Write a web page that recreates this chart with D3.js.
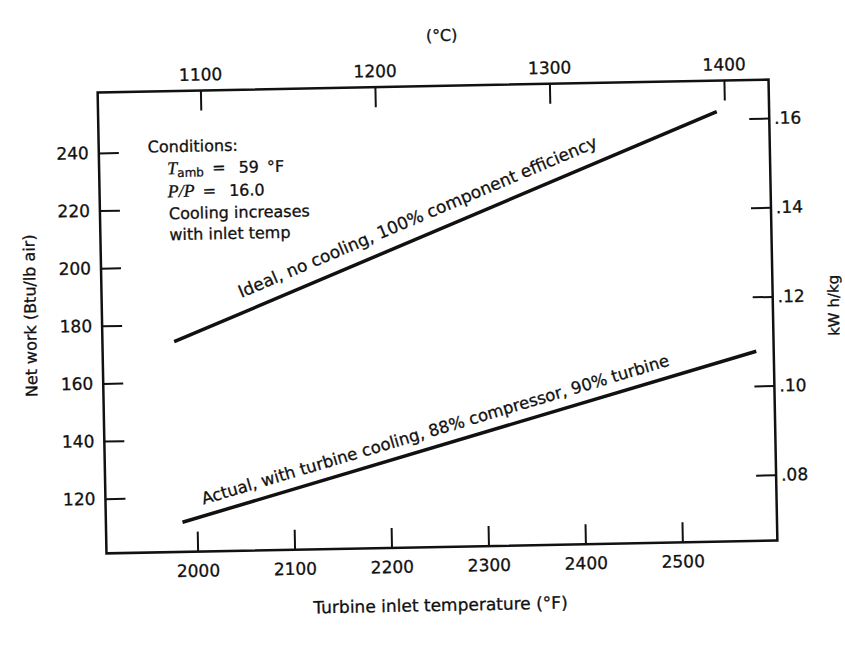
<!DOCTYPE html>
<html>
<head>
<meta charset="utf-8">
<script src="https://cdn.jsdelivr.net/npm/d3@7"></script>
<style>
  html, body { margin: 0; padding: 0; background: #fff; }
  svg { display: block; }
  text { font-family: "DejaVu Sans", "Liberation Sans", sans-serif; fill: #111; stroke: #111; stroke-width: 0.3px; }
</style>
</head>
<body>
<svg id="chart" width="845" height="666"></svg>
<script>
// ---- data ----
const curveNames = ["Ideal, no cooling, 100% component efficiency",
                    "Actual, with turbine cooling, 88% compressor, 90% turbine"];
const idealTempF   = [1980, 2544];
const idealWork    = [174.0, 250.2];
const actualTempF  = [1985, 2580];
const actualWork   = [111.3, 166.8];

const bottomTicks = [2000, 2100, 2200, 2300, 2400, 2500];   // °F
const topTicks    = [1100, 1200, 1300, 1400];               // °C
const leftTicks   = [120, 140, 160, 180, 200, 220, 240];    // Btu/lb air
const rightTicks  = [0.08, 0.10, 0.12, 0.14, 0.16];         // kW h/kg

const xDomainF = [1906, 2598];
const yDomainW = [101, 261];
const btuToKwh = 2.326 / 3600;   // Btu/lb -> kW h/kg

// ---- layout ----
const L = 102, R = 773, T = 86, B = 547;
const svg = d3.select("#chart");
svg.append("rect").attr("width", 845).attr("height", 666).attr("fill", "#fff");
const g = svg.append("g").attr("transform", "rotate(-1.1, 437.5, 316.5)");

const x = d3.scaleLinear().domain(xDomainF).range([L, R]);
const y = d3.scaleLinear().domain(yDomainW).range([B, T]);
const xC = d3.scaleLinear().domain(xDomainF.map(f => (f - 32) / 1.8)).range([L, R]);
const yK = d3.scaleLinear().domain(yDomainW.map(w => w * btuToKwh)).range([B, T]);

const tickLen = 20;
function styleAxis(sel, fs) {
  sel.select(".domain").remove();
  sel.selectAll(".tick line").attr("stroke", "#111").attr("stroke-width", 2);
  sel.selectAll(".tick text").attr("font-size", fs).attr("fill", "#111")
     .style("font-family", '"DejaVu Sans", sans-serif');
}

g.append("g").attr("transform", `translate(0,${B})`)
  .call(d3.axisBottom(x).tickValues(bottomTicks).tickSize(-tickLen).tickPadding(13).tickFormat(d3.format("d")))
  .call(s => styleAxis(s, 17));

g.append("g").attr("transform", `translate(0,${T})`)
  .call(d3.axisTop(xC).tickValues(topTicks).tickSize(-tickLen).tickPadding(10).tickFormat(d3.format("d")))
  .call(s => styleAxis(s, 17));

g.append("g").attr("transform", `translate(${L},0)`)
  .call(d3.axisLeft(y).tickValues(leftTicks).tickSize(-tickLen).tickPadding(10).tickFormat(d3.format("d")))
  .call(s => styleAxis(s, 17));

g.append("g").attr("transform", `translate(${R},0)`)
  .call(d3.axisRight(yK).tickValues(rightTicks).tickSize(-tickLen).tickPadding(5)
        .tickFormat(d => d3.format(".2f")(d).replace(/^0/, "")))
  .call(s => styleAxis(s, 17));

// frame
g.append("rect").attr("x", L).attr("y", T).attr("width", R - L).attr("height", B - T)
  .attr("fill", "none").attr("stroke", "#111").attr("stroke-width", 2.5);

// curves
const line = d3.line().x(d => x(d[0])).y(d => y(d[1]));
const curves = [
  { name: curveNames[0], pts: d3.zip(idealTempF, idealWork), labelAt: 2241, off: -14, fs: 17 },
  { name: curveNames[1], pts: d3.zip(actualTempF, actualWork), labelAt: 2252, off: -11, fs: 16.5 }
];
curves.forEach(c => {
  g.append("path").datum(c.pts).attr("d", line)
    .attr("fill", "none").attr("stroke", "#111").attr("stroke-width", 3.5);
  const p0 = c.pts[0], p1 = c.pts[c.pts.length - 1];
  const ang = Math.atan2(y(p1[1]) - y(p0[1]), x(p1[0]) - x(p0[0])) * 180 / Math.PI;
  const t = (c.labelAt - p0[0]) / (p1[0] - p0[0]);
  const wAt = p0[1] + t * (p1[1] - p0[1]);
  g.append("text")
    .attr("transform", `translate(${x(c.labelAt)},${y(wAt)}) rotate(${ang})`)
    .attr("dy", c.off).attr("text-anchor", "middle").attr("font-size", c.fs)
    .text(c.name);
});

// axis titles
g.append("text").attr("x", 435).attr("y", 611).attr("text-anchor", "middle")
  .attr("font-size", 17).text("Turbine inlet temperature (°F)");
g.append("text").attr("x", 447).attr("y", 41).attr("text-anchor", "middle")
  .attr("font-size", 16).text("(°C)");
g.append("text").attr("transform", "translate(36,308) rotate(-90)").attr("text-anchor", "middle")
  .attr("font-size", 16).text("Net work (Btu/lb air)");
g.append("text").attr("transform", "translate(839,313) rotate(-90)").attr("text-anchor", "middle")
  .attr("font-size", 15).text("kW h/kg");

// conditions block
const cond = g.append("g").attr("font-size", 16);
cond.append("text").attr("x", 151).attr("y", 147).text("Conditions:");
const t1 = cond.append("text").attr("x", 170).attr("y", 169).attr("xml:space", "preserve");
t1.append("tspan").attr("font-family", '"Liberation Serif", serif').attr("font-style", "italic")
  .attr("font-size", 18).text("T");
t1.append("tspan").attr("font-size", 12).attr("dy", 3).text("amb");
t1.append("tspan").attr("dy", -3).text("\u2009 =\u2002 59\u2002°F");
const t2 = cond.append("text").attr("x", 170).attr("y", 192).attr("xml:space", "preserve");
t2.append("tspan").attr("font-family", '"Liberation Serif", serif').attr("font-style", "italic")
  .attr("font-size", 18).text("P/P");
t2.append("tspan").text("\u2002=\u2002 16.0");
cond.append("text").attr("x", 171).attr("y", 214).text("Cooling increases");
cond.append("text").attr("x", 171).attr("y", 235).text("with inlet temp");
</script>
</body>
</html>
